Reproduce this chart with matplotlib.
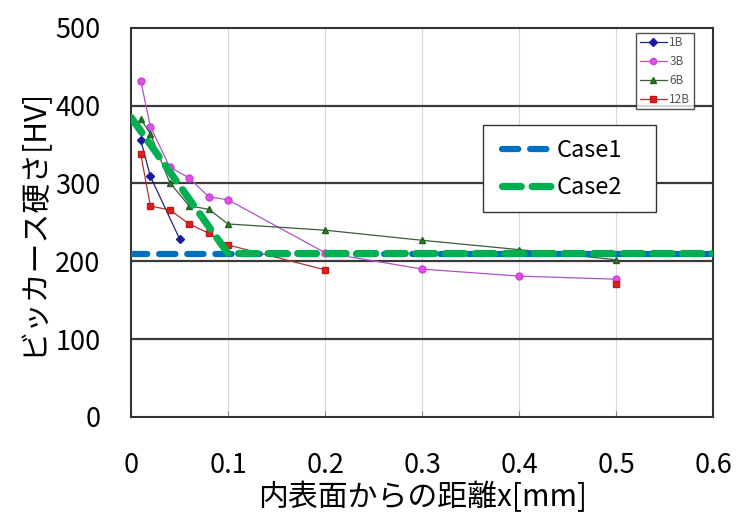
import numpy as np
import matplotlib
matplotlib.use('Agg')
import matplotlib.pyplot as plt
from matplotlib.patches import Rectangle

plt.rcParams['font.family'] = ['Noto Sans CJK JP', 'DejaVu Sans']

# measured hardness per specimen
x_1b = [0.01, 0.02, 0.05]
hv_1b = [356, 309, 229]
x_3b = [0.01, 0.02, 0.04, 0.06, 0.08, 0.1, 0.2, 0.3, 0.4, 0.5]
hv_3b = [432, 373, 321, 307, 283, 279, 211, 190, 181, 177]
x_6b = [0.01, 0.02, 0.04, 0.06, 0.08, 0.1, 0.2, 0.3, 0.4, 0.5]
hv_6b = [383, 364, 301, 271, 267, 248, 240, 227, 215, 202]
x_12b = [0.01, 0.02, 0.04, 0.06, 0.08, 0.1, 0.2, 0.3, 0.4, 0.5]
hv_12b = [338, 271, 266, 248, 236, 221, 189, np.nan, np.nan, 171]

# model cases
x_case1 = [0, 0.6]
hv_case1 = [210, 210]
x_case2 = [0, 0.1, 0.6]
hv_case2 = [385, 210, 210]

xticks = [0, 0.1, 0.2, 0.3, 0.4, 0.5, 0.6]
xtick_labels = ['0', '0.1', '0.2', '0.3', '0.4', '0.5', '0.6']
yticks = [0, 100, 200, 300, 400, 500]

fig = plt.figure(figsize=(7.36, 5.16), dpi=100)
ax = fig.add_axes([0.178, 0.192, 0.791, 0.754])

# inner grid: light vertical, dark horizontal
for xv in xticks[1:-1]:
    ax.axvline(xv, color='#d8d8d8', lw=0.8, zorder=0)
for yv in yticks[1:-1]:
    ax.axhline(yv, color='#3a3a3a', lw=1.6, zorder=0)

ms = 5
l1, = ax.plot(x_1b, hv_1b, color='#22227a', lw=0.9, marker='D', ms=ms * 0.85,
              mfc='#1a1aa0', mec='#1a1aa0', label='1B', zorder=3)
l3, = ax.plot(x_3b, hv_3b, color='#b050c8', lw=0.9, marker='o', ms=ms,
              mfc='#e050e8', mec='#d040e0', label='3B', zorder=3)
l6, = ax.plot(x_6b, hv_6b, color='#3d5a3d', lw=0.9, marker='^', ms=ms,
              mfc='#2e7d2e', mec='#1f5f1f', label='6B', zorder=3)
l12, = ax.plot(x_12b, hv_12b, color='#b03030', lw=0.9, marker='s', ms=ms,
               mfc='#e02020', mec='#c01818', label='12B', zorder=3)

c1, = ax.plot(x_case1, hv_case1, color='#0070c0', lw=4.5,
              linestyle=(0, (2.6, 1.9)), dash_capstyle='round', label='Case1', zorder=4)
c2, = ax.plot(x_case2, hv_case2, color='#00b050', lw=5.2,
              linestyle=(0, (2.6, 1.5)), dash_capstyle='round', label='Case2', zorder=5)

ax.set_xlim(0, 0.6)
ax.set_ylim(0, 500)
ax.set_xticks(xticks)
ax.set_xticklabels(xtick_labels)
ax.set_yticks(yticks)
ax.tick_params(axis='x', direction='in', length=4, color='#888888', pad=25, labelsize=19.5)
ax.tick_params(axis='y', length=0, pad=22, labelsize=19.5)
for s in ax.spines.values():
    s.set_color('#333333')
    s.set_linewidth(1.5)

ax.set_xlabel('内表面からの距離x[mm]', fontsize=21.5, labelpad=2)
ax.set_ylabel('ビッカース硬さ[HV]', fontsize=21.5, labelpad=5)

leg1 = ax.legend(handles=[l1, l3, l6, l12], loc='upper left',
                 bbox_to_anchor=(0.868, 0.988), fontsize=8.5, frameon=True,
                 fancybox=False, edgecolor='#222222', handlelength=2.3,
                 handletextpad=0.2, borderpad=0.3, labelspacing=0.5,
                 borderaxespad=0, labelcolor='#555555', markerscale=0.9)
leg1.get_frame().set_linewidth(1.0)
ax.add_artist(leg1)

# Case legend box drawn separately for exact padding
ax.add_patch(Rectangle((0.605, 0.527), 0.297, 0.224, transform=ax.transAxes,
                       facecolor='white', edgecolor='#333333', lw=1.0, zorder=6))
leg2 = ax.legend(handles=[c1, c2], loc='center left',
                 bbox_to_anchor=(0.638, 0.637), fontsize=17, frameon=False,
                 handlelength=2.2, handletextpad=0.1, borderpad=0,
                 labelspacing=0.6, borderaxespad=0)
leg2.set_zorder(7)

fig.savefig('out.png', dpi=100)
